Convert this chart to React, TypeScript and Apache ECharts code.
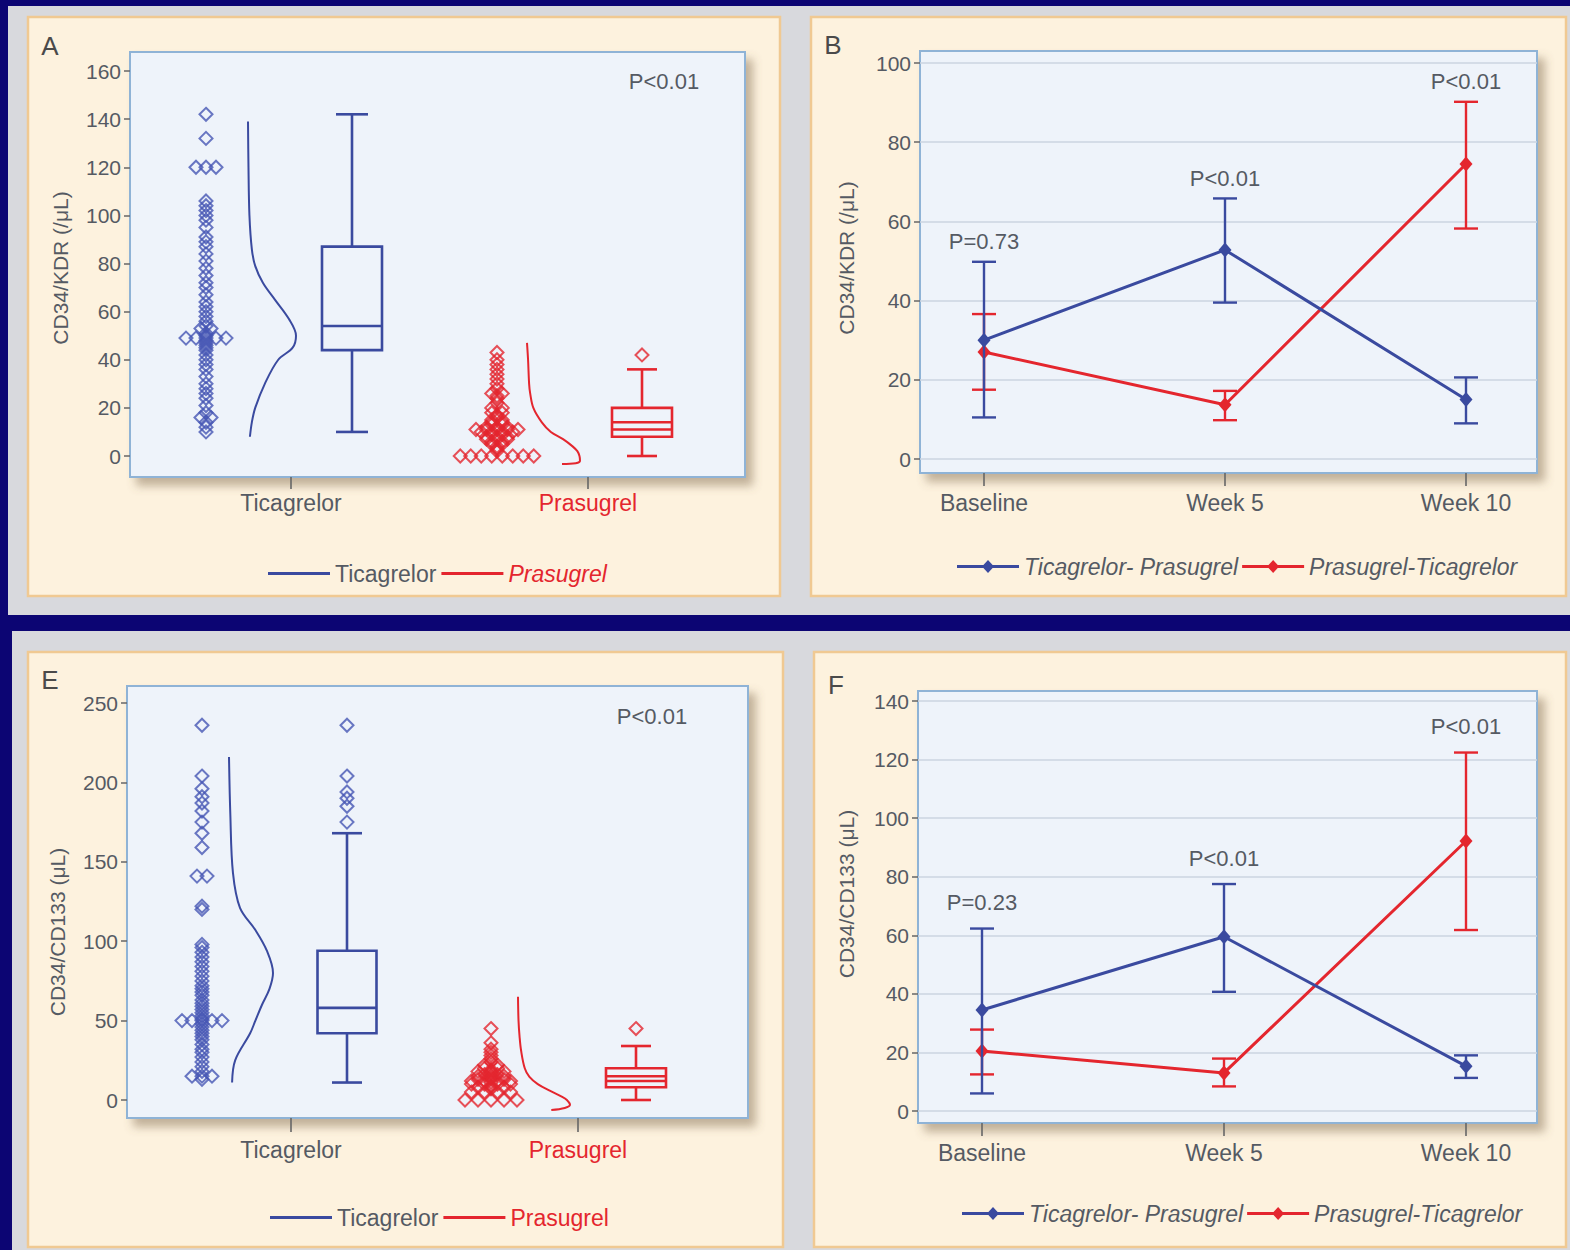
import React, { useEffect, useRef } from "react";
import * as echarts from "echarts";

const FONT = "'Liberation Sans', Arial, sans-serif";

const NAVY = "#0c0573";
const FRAME_GRAY = "#d8d9dd";
const CREAM = "#fdf2de";
const CREAM_EDGE = "#f0c992";
const PLOT_BG = "#eef3fa";
const PLOT_EDGE = "#8fb3d6";
const BLUE = "#3a4a9f";
const BLUE_PT = "#4656b4";
const RED = "#e4262e";
const TEXT = "#555a63";
const AXIS_GRAY = "#666";

// ---------- Panel A: CD34/KDR (/µL) by drug ----------
const drugs = ["Ticagrelor", "Prasugrel"];
const kdrTicaPoints = [142, 132, 120, 120, 120, 106, 104, 102, 100, 98, 95, 91, 89, 87, 84, 81, 78, 75, 72, 70, 67, 64, 62, 60, 58, 56, 54, 53, 53, 51, 50, 49, 49, 49, 49, 49, 48, 47, 46, 45, 44, 42, 40, 38, 36, 33, 30, 28, 26, 24, 21, 18, 16, 16, 14, 12, 10];
const kdrPrasPoints = [0, 0, 0, 0, 0, 0, 0, 0, 2, 3, 4, 5, 5, 6, 6, 7, 7, 7, 8, 8, 8, 9, 9, 10, 10, 10, 10, 11, 11, 11, 11, 11, 12, 12, 12, 13, 13, 14, 14, 15, 15, 16, 17, 18, 18, 20, 20, 22, 24, 25, 26, 26, 28, 30, 32, 34, 36, 38, 40, 43];
// min, Q1, median, Q3, max, mean
const kdrTicaBox = [10, 44, 54, 87, 142, null];
const kdrPrasBox = [0, 8, 11, 20, 36, 14];
const kdrTicaOutliers: number[] = [];
const kdrPrasOutliers = [42];
// kernel density (relative to peak) at levels of the value axis
const kdrTicaDensLevels = [139, 120, 100, 86, 79, 72, 65, 57, 50, 45, 40, 30, 20, 14, 8];
const kdrTicaDens = [0, 0.01, 0.03, 0.08, 0.15, 0.31, 0.56, 0.85, 1.0, 0.93, 0.63, 0.35, 0.15, 0.08, 0.04];
const kdrPrasDensLevels = [47, 40, 30, 26, 20, 14, 10, 7, 4, 2, 0, -2, -3, -3.3];
const kdrPrasDens = [0, 0.02, 0.04, 0.06, 0.12, 0.28, 0.45, 0.68, 0.86, 0.95, 0.99, 1.0, 0.92, 0.66];

// ---------- Panel B: CD34/KDR (/µL) over time ----------
const visits = ["Baseline", "Week 5", "Week 10"];
const kdrTPMean = [30, 52.8, 15];
const kdrTPLow = [10.5, 39.5, 9];
const kdrTPHigh = [49.8, 65.8, 20.6];
const kdrPTMean = [27, 13.7, 74.5];
const kdrPTLow = [17.5, 9.8, 58.2];
const kdrPTHigh = [36.6, 17.2, 90.2];
const kdrPValues = ["P=0.73", "P<0.01", "P<0.01"];

// ---------- Panel E: CD34/CD133 (µL) by drug ----------
const cd133TicaPoints = [236, 204, 196, 191, 187, 182, 175, 168, 159, 141, 141, 122, 120, 98, 96, 93, 90, 87, 84, 81, 78, 75, 72, 70, 68, 66, 63, 61, 59, 57, 55, 53, 51, 50, 50, 50, 50, 50, 48, 46, 44, 42, 40, 38, 35, 32, 30, 27, 24, 21, 18, 15, 15, 15, 13];
const cd133PrasPoints = [0, 0, 0, 0, 0, 5, 5, 5, 5, 7, 8, 8, 8, 9, 10, 10, 10, 10, 11, 12, 12, 12, 12, 13, 13, 13, 14, 15, 15, 15, 16, 16, 17, 18, 18, 18, 19, 20, 20, 22, 22, 24, 26, 28, 30, 32, 36, 45];
const cd133TicaBox = [11, 42, 58, 94, 168, null];
const cd133PrasBox = [0, 8, 12, 20, 34, 15];
const cd133TicaOutliers = [175, 185, 190, 194, 204, 236];
const cd133PrasOutliers = [45];
const cd133TicaDensLevels = [216, 180, 143, 121, 107, 94, 80, 70, 60, 50, 42, 25, 11];
const cd133TicaDens = [0, 0.03, 0.09, 0.25, 0.6, 0.86, 1.0, 0.92, 0.75, 0.6, 0.48, 0.14, 0.07];
const cd133PrasDensLevels = [65, 50, 40, 31, 20, 14.5, 10, 6, 2, 0, -3, -5, -6.3];
const cd133PrasDens = [0, 0.01, 0.03, 0.06, 0.13, 0.22, 0.38, 0.6, 0.85, 0.94, 1.0, 0.9, 0.64];

// ---------- Panel F: CD34/CD133 (µL) over time ----------
const cd133TPMean = [34.5, 59.5, 15.3];
const cd133TPLow = [6, 40.7, 11.3];
const cd133TPHigh = [62.3, 77.5, 19];
const cd133PTMean = [20.5, 13, 92.2];
const cd133PTLow = [12.5, 8.4, 61.8];
const cd133PTHigh = [27.8, 17.9, 122.4];
const cd133PValues = ["P=0.23", "P<0.01", "P<0.01"];

const SERIES_TP = "Ticagrelor- Prasugrel";
const SERIES_PT = "Prasugrel-Ticagrelor";

// ---------- layout (pixels) ----------
type Layout = {
  letter: string;
  panel: [number, number, number, number];
  box: { l: number; t: number; r: number; b: number };
  yTop: number;
  yBottom: number;
  xTicks: number[];
  tickLen: number;
  labelMargin: number;
  yMax: number;
  yInterval: number;
  gridLines: boolean;
  yTitle: string;
  yTitlePos: [number, number];
};

const layouts: Layout[] = [
  {
    letter: "A", panel: [28, 17, 752, 579], box: { l: 130, t: 52, r: 745, b: 477 },
    yTop: 71, yBottom: 456, xTicks: [291, 588], tickLen: 12, labelMargin: 14,
    yMax: 160, yInterval: 20, gridLines: false, yTitle: "CD34/KDR (/μL)", yTitlePos: [60, 268],
  },
  {
    letter: "B", panel: [811, 17, 755, 579], box: { l: 920, t: 51, r: 1537, b: 473 },
    yTop: 63, yBottom: 459, xTicks: [984, 1225, 1466], tickLen: 13, labelMargin: 18,
    yMax: 100, yInterval: 20, gridLines: true, yTitle: "CD34/KDR (/μL)", yTitlePos: [846, 258],
  },
  {
    letter: "E", panel: [28, 652, 755, 595], box: { l: 127, t: 686, r: 748, b: 1118 },
    yTop: 703, yBottom: 1100, xTicks: [291, 578], tickLen: 14, labelMargin: 20,
    yMax: 250, yInterval: 50, gridLines: false, yTitle: "CD34/CD133 (μL)", yTitlePos: [57, 932],
  },
  {
    letter: "F", panel: [814, 652, 752, 595], box: { l: 918, t: 691, r: 1537, b: 1123 },
    yTop: 701, yBottom: 1111, xTicks: [982, 1225, 1466], tickLen: 13, labelMargin: 18,
    yMax: 140, yInterval: 20, gridLines: true, yTitle: "CD34/CD133 (μL)", yTitlePos: [846, 894],
  },
];

function xScale(L: Layout) {
  const n = L.xTicks.length;
  const ppu = (L.xTicks[n - 1] - L.xTicks[0]) / (n - 1);
  return {
    ppu,
    min: -(L.xTicks[0] - L.box.l) / ppu,
    max: n - 1 + (L.box.r - L.xTicks[n - 1]) / ppu,
  };
}

// spread equal values side by side around a centre
function swarm(values: number[], center: number, step: number): number[][] {
  const counts = new Map<number, number>();
  values.forEach((v) => counts.set(v, (counts.get(v) || 0) + 1));
  const seen = new Map<number, number>();
  return values.map((v) => {
    const n = counts.get(v)!;
    const k = seen.get(v) || 0;
    seen.set(v, k + 1);
    return [center + (k - (n - 1) / 2) * step, v];
  });
}

function densityPath(levels: number[], dens: number[], base: number, width: number) {
  return levels.map((v, i) => [base + dens[i] * width, v]);
}

function boxRenderer(halfW: number, capHalf: number, color: string) {
  return (params: any, api: any) => {
    const x = api.value(0);
    const mn = api.value(1), q1 = api.value(2), md = api.value(3), q3 = api.value(4), mx = api.value(5), mean = api.value(6);
    const p = (dx: number, v: number) => api.coord([x + dx, v]);
    const style = { stroke: color, lineWidth: 2.6, fill: "none" };
    const seg = (a: number[], b: number[]) => ({
      type: "line", shape: { x1: a[0], y1: a[1], x2: b[0], y2: b[1] }, style,
    });
    const tl = p(-halfW, q3);
    const br = p(halfW, q1);
    const children: any[] = [
      { type: "rect", shape: { x: tl[0], y: tl[1], width: br[0] - tl[0], height: br[1] - tl[1] }, style },
      seg(p(-halfW, md), p(halfW, md)),
      seg(p(0, q3), p(0, mx)),
      seg(p(0, q1), p(0, mn)),
      seg(p(-capHalf, mx), p(capHalf, mx)),
      seg(p(-capHalf, mn), p(capHalf, mn)),
    ];
    if (mean != null && !isNaN(mean)) children.push(seg(p(-halfW, mean), p(halfW, mean)));
    return { type: "group", children };
  };
}

function errorBarRenderer(capHalf: number, color: string) {
  return (params: any, api: any) => {
    const x = api.value(0);
    const lo = api.coord([x, api.value(1)]);
    const hi = api.coord([x, api.value(2)]);
    const style = { stroke: color, lineWidth: 2.4 };
    return {
      type: "group",
      children: [
        { type: "line", shape: { x1: lo[0], y1: lo[1], x2: hi[0], y2: hi[1] }, style },
        { type: "line", shape: { x1: lo[0] - capHalf, y1: lo[1], x2: lo[0] + capHalf, y2: lo[1] }, style },
        { type: "line", shape: { x1: hi[0] - capHalf, y1: hi[1], x2: hi[0] + capHalf, y2: hi[1] }, style },
      ],
    };
  };
}

// group series for a "by drug" panel
type DrugGroup = {
  name: string;
  color: string;
  points: number[];
  box: (number | null)[];
  outliers: number[];
  densLevels: number[];
  dens: number[];
  // pixel offsets from the category tick
  swarmDx: number;
  swarmStep: number;
  densBaseDx: number;
  densWidth: number;
  boxDx: number;
  boxHalf: number;
  capHalf: number;
};

function drugPanelSeries(gi: number, groups: DrugGroup[]) {
  const L = layouts[gi];
  const { ppu } = xScale(L);
  const out: any[] = [];
  groups.forEach((g, i) => {
    const scatterStyle = { color: "rgba(0,0,0,0)", borderColor: g.color === RED ? RED : BLUE_PT, borderWidth: 2 };
    out.push({
      type: "scatter", name: g.name + " values", xAxisIndex: gi, yAxisIndex: gi,
      symbol: "diamond", symbolSize: 13, itemStyle: scatterStyle, z: 3,
      data: swarm(g.points, i + g.swarmDx / ppu, g.swarmStep / ppu),
    });
    out.push({
      type: "line", name: g.name, xAxisIndex: gi, yAxisIndex: gi, showSymbol: false, symbol: "none",
      smooth: 0.35, clip: false, lineStyle: { color: g.color, width: 2 }, itemStyle: { color: g.color }, z: 3,
      data: densityPath(g.densLevels, g.dens, i + g.densBaseDx / ppu, g.densWidth / ppu),
    });
    out.push({
      type: "custom", name: g.name + " box", xAxisIndex: gi, yAxisIndex: gi, clip: false, z: 3,
      renderItem: boxRenderer(g.boxHalf / ppu, g.capHalf / ppu, g.color),
      encode: { x: 0, y: [1, 2, 3, 4, 5] },
      data: [[i + g.boxDx / ppu, ...g.box.map((v) => (v == null ? "-" : v))]],
    });
    if (g.outliers.length) {
      out.push({
        type: "scatter", name: g.name + " outliers", xAxisIndex: gi, yAxisIndex: gi,
        symbol: "diamond", symbolSize: 13, itemStyle: scatterStyle, z: 3,
        data: g.outliers.map((v) => [i + g.boxDx / ppu, v]),
      });
    }
  });
  return out;
}

function timePanelSeries(
  gi: number,
  tp: { mean: number[]; low: number[]; high: number[] },
  pt: { mean: number[]; low: number[]; high: number[] },
  pValues: string[],
  labelGap: number,
) {
  const out: any[] = [];
  const defs = [
    { name: SERIES_TP, color: BLUE, d: tp, z: 5 },
    { name: SERIES_PT, color: RED, d: pt, z: 4 },
  ];
  defs.forEach((s) => {
    out.push({
      type: "custom", name: s.name + " range", xAxisIndex: gi, yAxisIndex: gi, z: s.z,
      renderItem: errorBarRenderer(12, s.color),
      encode: { x: 0, y: [1, 2] },
      data: s.d.mean.map((_, i) => [i, s.d.low[i], s.d.high[i]]),
    });
    out.push({
      type: "line", name: s.name, xAxisIndex: gi, yAxisIndex: gi, z: s.z,
      symbol: "diamond", symbolSize: [13, 15], showSymbol: true,
      lineStyle: { color: s.color, width: 3 }, itemStyle: { color: s.color },
      data: s.d.mean.map((v, i) => [i, v]),
    });
  });
  out.push({
    type: "custom", name: "P values", xAxisIndex: gi, yAxisIndex: gi, z: 6,
    renderItem: (params: any, api: any) => {
      const c = api.coord([api.value(0), api.value(1)]);
      return {
        type: "text", x: c[0], y: c[1] - labelGap,
        style: { text: pValues[params.dataIndex], fontSize: 22, fontFamily: FONT, fill: TEXT, align: "center", verticalAlign: "bottom" },
      };
    },
    encode: { x: 0, y: 1 },
    data: tp.high.map((h, i) => [i, Math.max(h, pt.high[i])]),
  });
  return out;
}

function buildOption() {
  const grid = layouts.map((L) => ({
    left: L.box.l, top: L.yTop, width: L.box.r - L.box.l, height: L.yBottom - L.yTop,
    containLabel: false, outerBoundsMode: "none",
  }));

  const xAxis = layouts.map((L, gi) => {
    const { min, max } = xScale(L);
    const names = L.xTicks.length === 2 ? drugs : visits;
    const ticks = names.map((_, i) => i);
    const byDrug = L.xTicks.length === 2;
    return {
      gridIndex: gi, type: "value", min, max, position: "bottom", offset: L.box.b - L.yBottom,
      axisLine: { show: false, onZero: false }, splitLine: { show: false },
      axisTick: { show: true, customValues: ticks, length: L.tickLen, lineStyle: { color: AXIS_GRAY, width: 1.6 } },
      axisLabel: {
        show: true, customValues: ticks, margin: L.labelMargin, fontSize: 23, fontFamily: FONT, color: TEXT,
        formatter: (v: number) => {
          const i = Math.round(v);
          return byDrug ? `{g${i}|${names[i]}}` : names[i];
        },
        rich: {
          g0: { color: TEXT, fontSize: 23, fontFamily: FONT },
          g1: { color: RED, fontSize: 23, fontFamily: FONT },
        },
      },
    };
  });

  const yAxis = layouts.map((L, gi) => ({
    gridIndex: gi, type: "value", min: 0, max: L.yMax, interval: L.yInterval, position: "left",
    axisLine: { show: false, onZero: false },
    axisTick: { show: true, length: 6, lineStyle: { color: AXIS_GRAY, width: 1.5 } },
    axisLabel: { fontSize: 21, fontFamily: FONT, color: TEXT, margin: 9 },
    splitLine: { show: L.gridLines, lineStyle: { color: "#cbd5e1", width: 1.5 } },
  }));

  const series = [
    ...drugPanelSeries(0, [
      {
        name: "Ticagrelor", color: BLUE, points: kdrTicaPoints, box: kdrTicaBox, outliers: kdrTicaOutliers,
        densLevels: kdrTicaDensLevels, dens: kdrTicaDens,
        swarmDx: -85, swarmStep: 10, densBaseDx: -43, densWidth: 48, boxDx: 61, boxHalf: 30, capHalf: 16,
      },
      {
        name: "Prasugrel", color: RED, points: kdrPrasPoints, box: kdrPrasBox, outliers: kdrPrasOutliers,
        densLevels: kdrPrasDensLevels, dens: kdrPrasDens,
        swarmDx: -91, swarmStep: 10.5, densBaseDx: -61, densWidth: 53, boxDx: 54, boxHalf: 30, capHalf: 15,
      },
    ]),
    ...timePanelSeries(1, { mean: kdrTPMean, low: kdrTPLow, high: kdrTPHigh }, { mean: kdrPTMean, low: kdrPTLow, high: kdrPTHigh }, kdrPValues, 9),
    ...drugPanelSeries(2, [
      {
        name: "Ticagrelor", color: BLUE, points: cd133TicaPoints, box: cd133TicaBox, outliers: cd133TicaOutliers,
        densLevels: cd133TicaDensLevels, dens: cd133TicaDens,
        swarmDx: -89, swarmStep: 10, densBaseDx: -62, densWidth: 44, boxDx: 56, boxHalf: 29.5, capHalf: 15,
      },
      {
        name: "Prasugrel", color: RED, points: cd133PrasPoints, box: cd133PrasBox, outliers: cd133PrasOutliers,
        densLevels: cd133PrasDensLevels, dens: cd133PrasDens,
        swarmDx: -87, swarmStep: 13, densBaseDx: -60, densWidth: 52, boxDx: 58, boxHalf: 30, capHalf: 15,
      },
    ]),
    ...timePanelSeries(3, { mean: cd133TPMean, low: cd133TPLow, high: cd133TPHigh }, { mean: cd133PTMean, low: cd133PTLow, high: cd133PTHigh }, cd133PValues, 15),
  ];

  const lineDiamondIcon = "path://M0,5 L62,5 L62,8 L0,8 Z M31,0 L37,6.5 L31,13 L25,6.5 Z";
  const legendText = { fontSize: 23, fontFamily: FONT, color: TEXT };
  const legend = [
    {
      left: 268, top: 562, padding: 0, itemGap: 5, itemWidth: 62, itemHeight: 3, icon: "rect", selectedMode: false,
      textStyle: legendText,
      data: [
        { name: "Ticagrelor", textStyle: { color: TEXT } },
        { name: "Prasugrel", textStyle: { color: RED, fontStyle: "italic" } },
      ],
    },
    {
      left: 957, top: 555, padding: 0, itemGap: 4, itemWidth: 62, itemHeight: 13, icon: lineDiamondIcon, selectedMode: false,
      textStyle: { ...legendText, fontStyle: "italic" },
      data: [SERIES_TP, SERIES_PT],
    },
    {
      left: 270, top: 1206, padding: 0, itemGap: 5, itemWidth: 62, itemHeight: 3, icon: "rect", selectedMode: false,
      textStyle: legendText,
      data: [
        { name: "Ticagrelor", textStyle: { color: TEXT } },
        { name: "Prasugrel", textStyle: { color: RED } },
      ],
    },
    {
      left: 962, top: 1202, padding: 0, itemGap: 4, itemWidth: 62, itemHeight: 13, icon: lineDiamondIcon, selectedMode: false,
      textStyle: { ...legendText, fontStyle: "italic" },
      data: [SERIES_TP, SERIES_PT],
    },
  ];

  const graphic: any[] = [
    { type: "rect", z: -30, shape: { x: 8, y: 6, width: 1562, height: 609 }, style: { fill: FRAME_GRAY } },
    { type: "rect", z: -30, shape: { x: 12, y: 631, width: 1558, height: 619 }, style: { fill: FRAME_GRAY } },
  ];
  layouts.forEach((L) => {
    const [px, py, pw, ph] = L.panel;
    graphic.push({
      type: "rect", z: -29, shape: { x: px, y: py, width: pw, height: ph },
      style: { fill: CREAM, stroke: CREAM_EDGE, lineWidth: 2.5 },
    });
    graphic.push({
      type: "rect", z: -28, shape: { x: L.box.l, y: L.box.t, width: L.box.r - L.box.l, height: L.box.b - L.box.t },
      style: {
        fill: PLOT_BG, stroke: PLOT_EDGE, lineWidth: 2,
        shadowBlur: 10, shadowOffsetX: 7, shadowOffsetY: 8, shadowColor: "rgba(120,100,70,0.45)",
      },
    });
    graphic.push({
      type: "text", z: 10, x: px + 22, y: L.box.t - 6,
      style: { text: L.letter, fontSize: 26, fontFamily: FONT, fill: "#4a4a4a", align: "center", verticalAlign: "middle" },
    });
    graphic.push({
      type: "text", z: 10, x: L.yTitlePos[0], y: L.yTitlePos[1], rotation: Math.PI / 2,
      style: { text: L.yTitle, fontSize: 21, fontFamily: FONT, fill: TEXT, align: "center", verticalAlign: "middle" },
    });
  });
  graphic.push({
    type: "text", z: 10, x: 664, y: 81,
    style: { text: "P<0.01", fontSize: 22, fontFamily: FONT, fill: TEXT, align: "center", verticalAlign: "middle" },
  });
  graphic.push({
    type: "text", z: 10, x: 652, y: 716,
    style: { text: "P<0.01", fontSize: 22, fontFamily: FONT, fill: TEXT, align: "center", verticalAlign: "middle" },
  });

  return {
    animation: false,
    backgroundColor: NAVY,
    textStyle: { fontFamily: FONT },
    grid,
    xAxis,
    yAxis,
    legend,
    graphic,
    series,
  };
}

export default function App() {
  const ref = useRef<HTMLDivElement>(null);
  useEffect(() => {
    const chart = echarts.init(ref.current!, null, { renderer: "svg" });
    chart.setOption(buildOption() as any);
    return () => chart.dispose();
  }, []);
  return <div ref={ref} style={{ position: "absolute", left: 0, top: 0, width: 1570, height: 1250 }} />;
}
